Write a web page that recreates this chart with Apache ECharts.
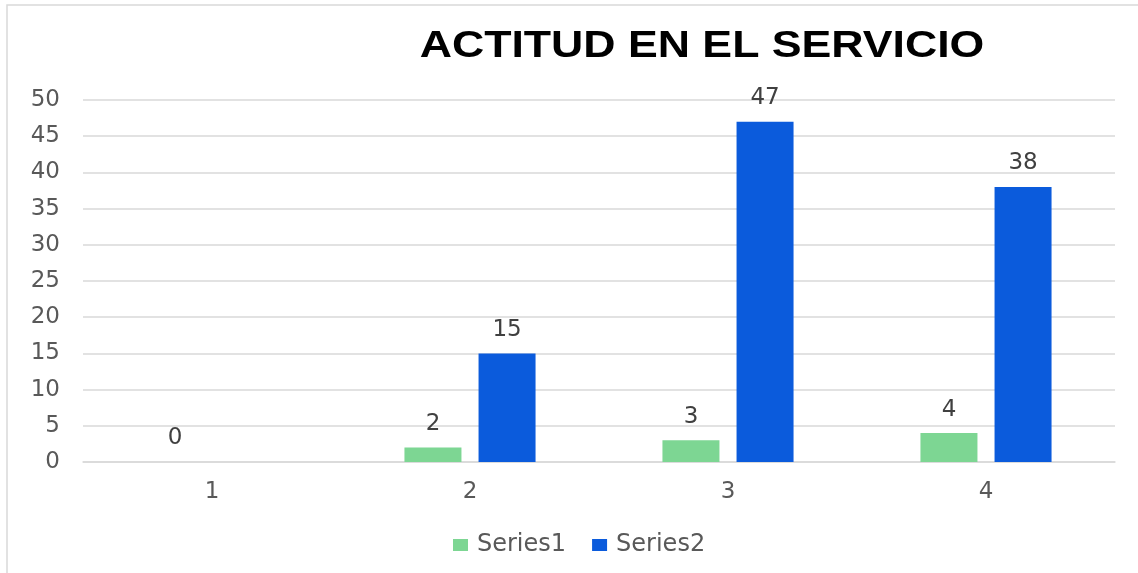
<!DOCTYPE html>
<html><head><meta charset="utf-8">
<script src="https://cdn.jsdelivr.net/npm/echarts@6/dist/echarts.min.js"></script>
<style>html,body{margin:0;padding:0;background:#fff}#c{width:1138px;height:573px}</style>
</head><body><div id="c"></div>
<script>
const titleText = 'ACTITUD EN EL SERVICIO';
const categories = ['1', '2', '3', '4'];
const series1 = [0, 2, 3, 4];
const series2 = [null, 15, 47, 38];
const yTicks = { min: 0, max: 50, interval: 5 };

const chart = echarts.init(document.getElementById('c'), null, { renderer: 'canvas' });
const font = '"DejaVu Sans", sans-serif';
chart.setOption({
  animation: false,
  backgroundColor: '#fff',
  graphic: [{
    type: 'rect', shape: { x: 7, y: 5, width: 1140, height: 580 },
    style: { fill: 'none', stroke: '#d9d9d9', lineWidth: 1.5 }, silent: true, z: -10
  }, {
    type: 'text', x: 702, y: 47, scaleX: 1.24,
    style: { text: titleText, font: 'bold 36px "Liberation Sans", Arial, sans-serif', fill: '#000',
             textAlign: 'center', textVerticalAlign: 'middle' }
  }],
  legend: {
    data: ['Series1', 'Series2'], left: 448, top: 528, itemWidth: 15, itemHeight: 12,
    itemGap: 26, icon: 'rect',
    textStyle: { fontFamily: font, fontSize: 24, color: '#595959', padding: [0, 0, 0, 4] }
  },
  grid: { left: 83, right: 23, top: 100, bottom: 111, containLabel: false },
  xAxis: {
    type: 'category', data: categories,
    axisLine: { show: true, lineStyle: { color: '#d9d9d9', width: 1.5 } },
    axisTick: { show: false },
    axisLabel: { fontFamily: font, fontSize: 23, color: '#595959', margin: 19 }
  },
  yAxis: {
    type: 'value', min: yTicks.min, max: yTicks.max, interval: yTicks.interval,
    axisLine: { show: false }, axisTick: { show: false },
    splitLine: { lineStyle: { color: '#d9d9d9', width: 1.5 } },
    axisLabel: { fontFamily: font, fontSize: 23, color: '#595959', margin: 23 }
  },
  series: [
    {
      name: 'Series1', type: 'bar', data: series1, barWidth: 57, barGap: '30%',
      itemStyle: { color: '#7dd693' },
      label: { show: true, position: 'top', distance: 12, fontFamily: font, fontSize: 23, color: '#404040' }
    },
    {
      name: 'Series2', type: 'bar', data: series2, barWidth: 57,
      itemStyle: { color: '#0b5bdc' },
      label: { show: true, position: 'top', distance: 12, fontFamily: font, fontSize: 23, color: '#404040' }
    }
  ]
});
</script></body></html>
